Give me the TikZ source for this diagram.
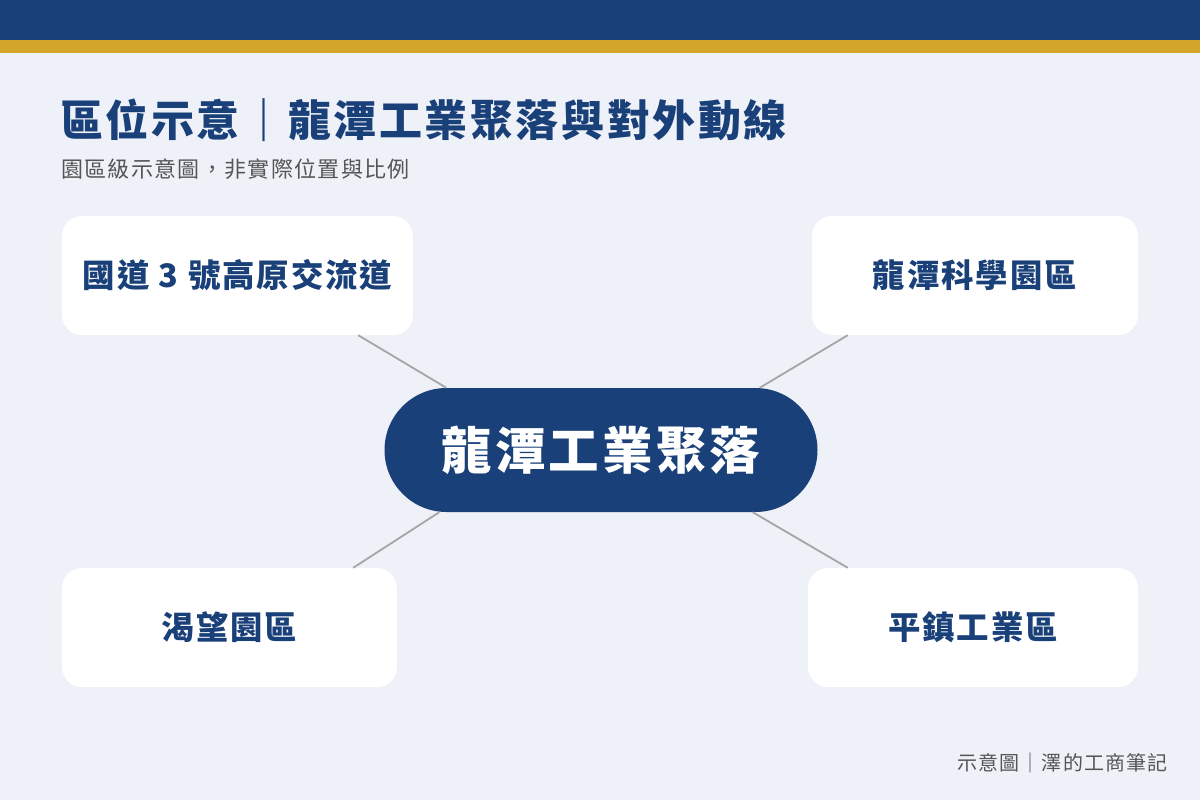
\documentclass[tikz,border=0pt]{standalone}
\usepackage{fontspec}
\usepackage{tikz}
\newfontfamily\cjk[LetterSpace=6]{Noto Sans CJK TC}
\definecolor{navy}{HTML}{1A4079}
\definecolor{gold}{HTML}{D3A52B}
\definecolor{paper}{HTML}{EEF1F8}
\definecolor{linegray}{HTML}{A5A5A5}
\definecolor{subgray}{HTML}{555555}

\begin{document}
\begin{tikzpicture}[x=1pt,y=-1pt,
    place/.style={fill=white,rounded corners=20pt,minimum height=119pt,inner sep=0pt,
      text=navy,font=\cjk\bfseries\fontsize{32.4}{38}\selectfont},
    link/.style={linegray,line width=1.8pt}]
    \fill[paper] (0,0) rectangle (1200,800);
    \useasboundingbox (0,0) rectangle (1200,800);
    \fill[navy] (0,0) rectangle (1200,40);
    \fill[gold] (0,40) rectangle (1200,53);

    \node[anchor=west,inner sep=0pt,text=navy,font=\cjk\bfseries\fontsize{43}{50}\selectfont] (title) at (60,120) {區位示意｜龍潭工業聚落與對外動線};
    \node[anchor=west,inner sep=0pt,text=subgray,font=\cjk\fontsize{22}{27}\selectfont] (sub) at (61,169) {園區級示意圖，非實際位置與比例};

    \node[fill=navy,rounded corners=62pt,minimum width=433pt,minimum height=124pt,
      text=white,font=\cjk\bfseries\fontsize{50.5}{56}\selectfont] (hub) at (601,450) {龍潭工業聚落};

    \node[place,minimum width=351pt] (road) at (237.5,275.5) {國道 3 號高原交流道};
    \node[place,minimum width=326pt] (park) at (975,275.5) {龍潭科學園區};
    \node[place,minimum width=335pt] (kewang) at (229.5,627.5) {渴望園區};
    \node[place,minimum width=330pt] (pingzhen) at (973,627.5) {平鎮工業區};

    \draw[link] ([xshift=-55pt]road.south east) -- ([xshift=62pt]hub.north west);
    \draw[link] ([xshift=36pt]park.south west) -- ([xshift=-58pt]hub.north east);
    \draw[link] ([xshift=-44pt]kewang.north east) -- ([xshift=55pt]hub.south west);
    \draw[link] ([xshift=40pt]pingzhen.north west) -- ([xshift=-65pt]hub.south east);

    \node[anchor=east,inner sep=0pt,text=subgray,font=\cjk\fontsize{20}{25}\selectfont] (credit) at (1168,763) {示意圖｜澤的工商筆記};
\end{tikzpicture}
\end{document}
